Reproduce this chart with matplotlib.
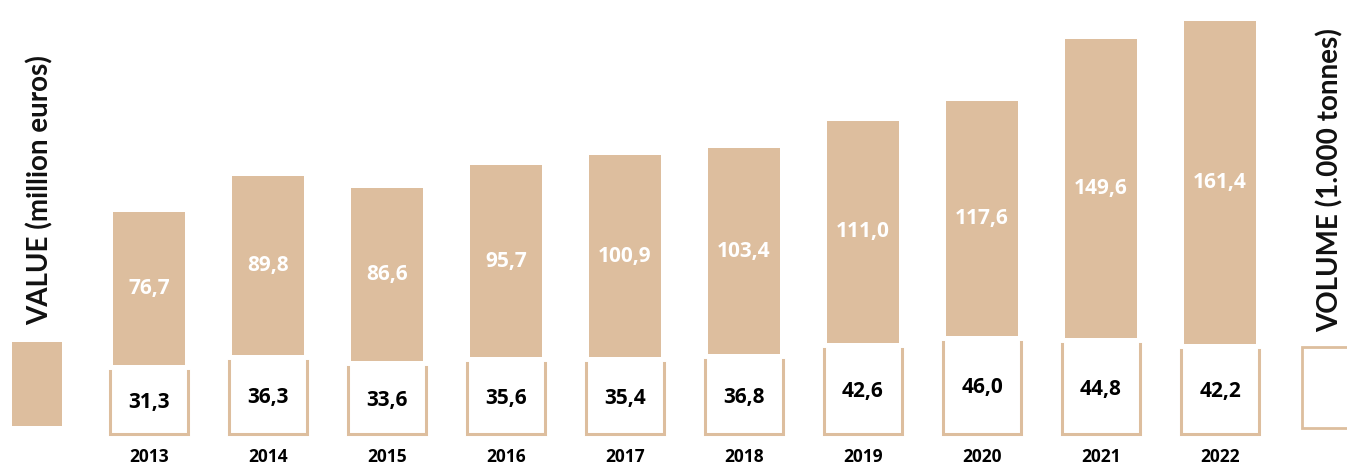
import matplotlib.pyplot as plt
from matplotlib.patches import Rectangle

years = ['2013', '2014', '2015', '2016', '2017', '2018', '2019', '2020', '2021', '2022']
value_meur = [76.7, 89.8, 86.6, 95.7, 100.9, 103.4, 111.0, 117.6, 149.6, 161.4]
volume_kt = [31.3, 36.3, 33.6, 35.6, 35.4, 36.8, 42.6, 46.0, 44.8, 42.2]

BROWN = '#ddbe9e'
W, H = 1347, 466
GAP = 3.0

def fmt(v):
    return f"{v:.1f}".replace('.', ',')

plt.rcParams['font.family'] = ['Open Sans', 'DejaVu Sans']

fig = plt.figure(figsize=(W / 100, H / 100), dpi=100)
ax = fig.add_axes([0, 0, 1, 1])
ax.set_xlim(-149 / 119, (W - 149) / 119)
ax.set_ylim(-16, (H - 32) / 2)
ax.axis('off')

x = list(range(len(years)))
bottoms = [v + GAP for v in volume_kt]
ax.bar(x, value_meur, bottom=bottoms, width=0.6, color=BROWN, edgecolor='none')

# volume: open-top boxes
hw = 0.328
for xi, vol in zip(x, volume_kt):
    ax.plot([xi - hw, xi - hw, xi + hw, xi + hw], [vol, 0, 0, vol],
            color=BROWN, lw=2.2, solid_joinstyle='miter')
    ax.text(xi, vol / 2, fmt(vol), ha='center', va='center',
            fontsize=15, fontweight='bold', color='black')

for xi, b, v in zip(x, bottoms, value_meur):
    ax.text(xi, b + v / 2, fmt(v), ha='center', va='center',
            fontsize=15, fontweight='bold', color='white')

for xi, yr in zip(x, years):
    ax.text(xi, -11.5, yr, ha='center', va='center', fontsize=12.5,
            fontweight='bold', color='black')

# legend keys
fig.add_artist(Rectangle((12 / W, 1 - 426 / H), 50 / W, 84 / H,
                         transform=fig.transFigure, facecolor=BROWN, edgecolor='none'))
fig.add_artist(Rectangle((1302 / W, 1 - 428 / H), 60 / W, 81 / H,
                         transform=fig.transFigure, facecolor='white',
                         edgecolor=BROWN, lw=2))

title_font = ['Liberation Sans Narrow', 'Lato', 'DejaVu Sans']
fig.text(40 / W, 1 - 190 / H, 'VALUE (million euros)', rotation=90,
         ha='center', va='center', fontsize=20, fontweight='bold',
         family=title_font, color='#111111')
fig.text(1330 / W, 1 - 180 / H, 'VOLUME (1.000 tonnes)', rotation=90,
         ha='center', va='center', fontsize=20, fontweight='bold',
         family=title_font, color='#111111')

fig.savefig('out.png', dpi=100)
